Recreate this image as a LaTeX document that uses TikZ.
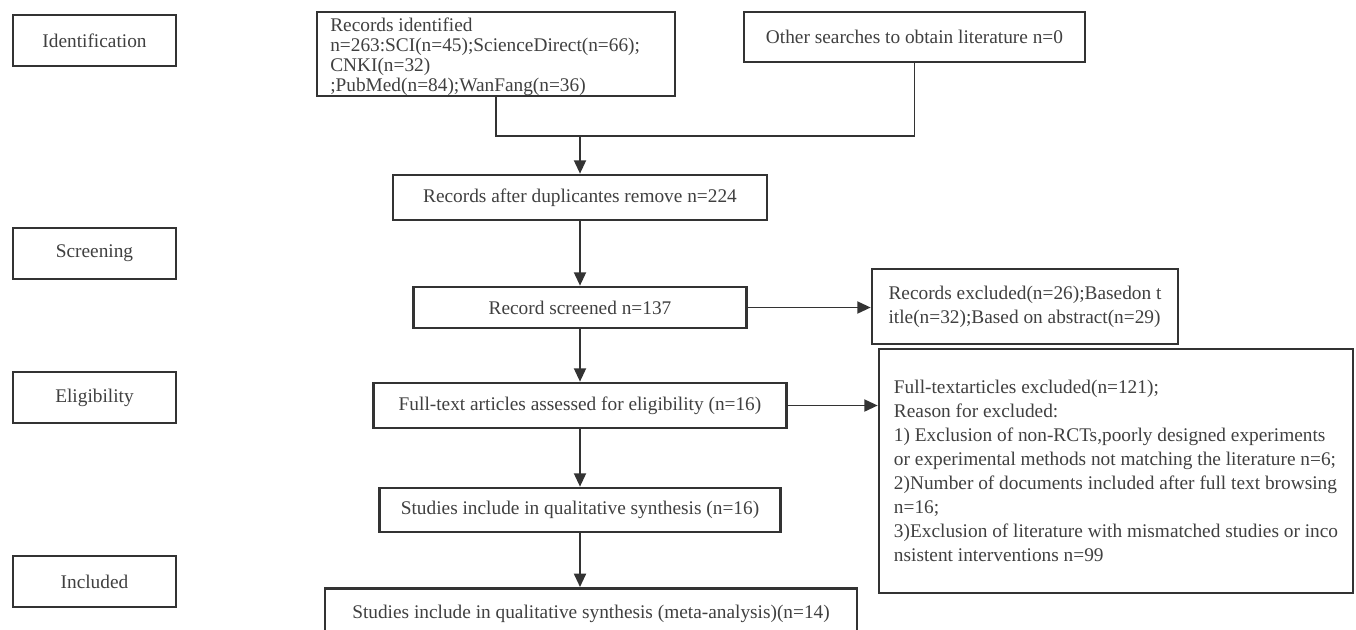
\documentclass[tikz,border=0pt]{standalone}
\usepackage{fontspec}
\setmainfont{Liberation Serif}
\usetikzlibrary{arrows.meta}
\definecolor{linegray}{HTML}{333333}
\definecolor{textgray}{HTML}{404040}

\begin{document}
\begin{tikzpicture}[x=0.75pt,y=-0.75pt,font=\fontsize{14.5}{18}\selectfont,
  box/.style={draw=linegray,line width=2pt,fill=white,text=textgray,inner sep=0pt,align=center},
  phase/.style={box,minimum width=122.25pt,minimum height=38.25pt},
  link/.style={draw=linegray,line width=1.4pt},
  arrow/.style={link,-{Triangle[length=10pt,width=9pt]}}]
\path[use as bounding box,clip] (0,0) rectangle (1356,629);
\node[phase] (phase-identification) at (94.5,40.5) {Identification};
\node[phase] (phase-screening) at (94.5,253.5) {Screening};
\node[phase] (phase-eligibility) at (94.5,397.5) {Eligibility};
\node[phase] (phase-included) at (94.5,581.5) {Included};
\node[box,minimum width=268.5pt,minimum height=63pt] (records-identified) at (496,54) {};
\node[anchor=north west,align=left,inner sep=0pt,text=textgray,font=\fontsize{14.5}{15}\selectfont] (records-identified-text) at (330,18) {Records identified\\n=263:SCI(n=45);ScienceDirect(n=66);\\CNKI(n=32)\\;PubMed(n=84);WanFang(n=36)};
\node[box,minimum width=255.75pt,minimum height=37.5pt] (other-searches) at (914.5,37) {Other searches to obtain literature n=0};
\node[box,minimum width=280.5pt,minimum height=33.75pt] (after-duplicates) at (580,197.5) {Records after duplicantes remove n=224};
\node[box,minimum width=249.75pt,minimum height=30.75pt] (record-screened) at (580,307.5) {Record screened n=137};
\node[box,minimum width=309.75pt,minimum height=33.75pt] (fulltext-assessed) at (580,405.5) {Full-text articles assessed for eligibility (n=16)};
\node[box,minimum width=300.75pt,minimum height=33pt] (qualitative-synthesis) at (580,510) {Studies include in qualitative synthesis (n=16)};
\node[box,minimum width=399pt,minimum height=39pt,anchor=north] (meta-analysis) at (591,587) {Studies include in qualitative synthesis (meta-analysis)(n=14)};
\node[box,minimum width=229.5pt,minimum height=56.25pt,align=left] (records-excluded) at (1025,306.5) {Records excluded(n=26);Basedon t\\itle(n=32);Based on abstract(n=29)};
\node[box,minimum width=355.5pt,minimum height=183pt,align=left] (fulltext-excluded) at (1116,471) {Full-textarticles excluded(n=121);\\Reason for excluded:\\1) Exclusion of non-RCTs,poorly designed experiments\\or experimental methods not matching the literature n=6;\\2)Number of documents included after full text browsing\\n=16;\\3)Exclusion of literature with mismatched studies or inco\\nsistent interventions n=99};
\coordinate (merge) at (580,136);
\draw[link] (records-identified.south) |- (merge) -| (other-searches.south);
\draw[arrow] (merge) -- (after-duplicates.north);
\draw[arrow] (after-duplicates) -- (record-screened);
\draw[arrow] (record-screened) -- (fulltext-assessed);
\draw[arrow] (fulltext-assessed) -- (qualitative-synthesis);
\draw[arrow] (qualitative-synthesis.south) -- (qualitative-synthesis.south |- meta-analysis.north);
\draw[arrow] (record-screened.east) -- (record-screened.east -| records-excluded.west);
\draw[arrow] (fulltext-assessed.east) -- (fulltext-assessed.east -| fulltext-excluded.west);
\end{tikzpicture}
\end{document}
